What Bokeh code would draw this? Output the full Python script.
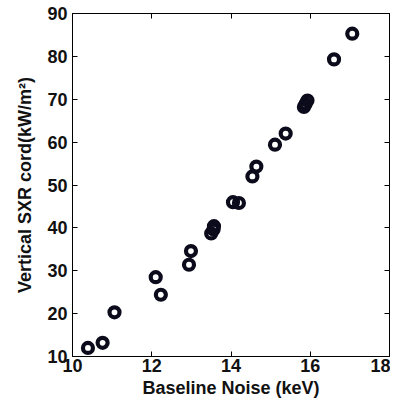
from bokeh.plotting import figure
from bokeh.models import LinearAxis, FixedTicker, Range1d
from bokeh.embed import file_html
from bokeh.resources import INLINE

baseline_noise = [10.39, 10.76, 11.06, 12.10, 12.23, 12.94, 12.99, 13.50, 13.56, 13.57,
                  14.05, 14.20, 14.54, 14.64, 15.11, 15.38, 15.84, 15.88, 15.93, 16.60, 17.06]
sxr_cord = [12.0, 13.2, 20.3, 28.5, 24.4, 31.4, 34.6, 38.7, 39.6, 40.4,
            46.0, 45.8, 52.0, 54.3, 59.4, 62.0, 68.2, 68.9, 69.7, 79.3, 85.3]
x_ticks = [10, 12, 14, 16, 18]
y_ticks = [10, 20, 30, 40, 50, 60, 70, 80, 90]

FONT = "Liberation Sans"

p = figure(width=390, height=403,
           min_border_left=72, min_border_top=13, min_border_right=1, min_border_bottom=47,
           x_range=Range1d(10, 18), y_range=Range1d(10, 90),
           output_backend="svg", toolbar_location=None)
p.xgrid.visible = False
p.ygrid.visible = False
p.outline_line_color = "black"
p.outline_line_width = 1
p.background_fill_color = "white"
p.border_fill_color = "white"

p.scatter(baseline_noise, sxr_cord, marker="circle", size=10, fill_color=None,
          line_color="#0b0b1c", line_width=4.2)

def style(ax, labels=True):
    ax.major_tick_in = 5
    ax.major_tick_out = 0
    ax.minor_tick_in = 0
    ax.minor_tick_out = 0
    ax.axis_line_color = "black"
    ax.major_tick_line_color = "black"
    if not labels:
        ax.major_label_text_font_size = "0px"
        ax.major_label_standoff = 0
        ax.major_label_text_color = None
    else:
        ax.major_label_text_font = FONT
        ax.major_label_text_font_size = "18px"
        ax.major_label_text_font_style = "bold"
        ax.major_label_text_color = "#111111"

p.xaxis.ticker = FixedTicker(ticks=x_ticks)
p.yaxis.ticker = FixedTicker(ticks=y_ticks)
style(p.xaxis[0])
style(p.yaxis[0])
p.xaxis.major_label_standoff = 2
p.yaxis.major_label_standoff = 5
p.xaxis.axis_label = "Baseline Noise (keV)"
p.yaxis.axis_label = "Vertical SXR cord(kW/m²)"
for ax in (p.xaxis[0], p.yaxis[0]):
    ax.axis_label_text_font = FONT
    ax.axis_label_text_font_size = "18px"
    ax.axis_label_text_font_style = "bold"
    ax.axis_label_text_color = "#111111"
p.xaxis.axis_label_standoff = 3
p.yaxis.axis_label_standoff = 9

top = LinearAxis(ticker=FixedTicker(ticks=x_ticks))
style(top, labels=False)
p.add_layout(top, "above")
right = LinearAxis(ticker=FixedTicker(ticks=y_ticks))
style(right, labels=False)
p.add_layout(right, "right")

open("out.html", "w").write(file_html(p, INLINE))
